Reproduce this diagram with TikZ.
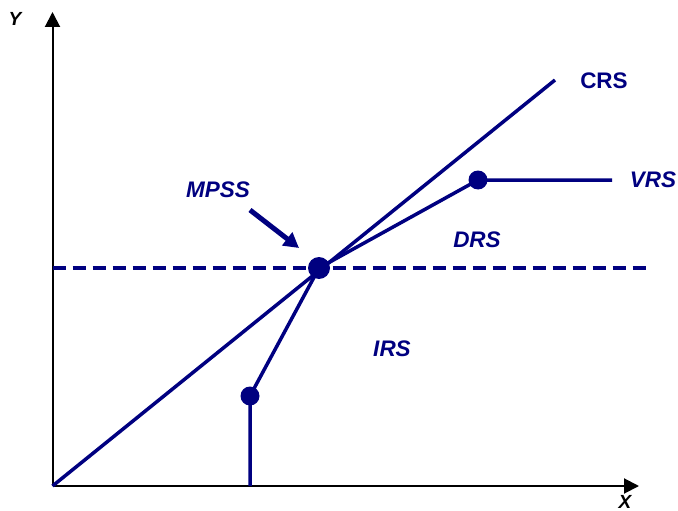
\documentclass[tikz,border=0pt]{standalone}
\usepackage{fontspec}
\setmainfont{Liberation Sans}
\usetikzlibrary{arrows.meta}
\definecolor{navy}{RGB}{0,0,128}
\begin{document}
\begin{tikzpicture}[x=1pt,y=-1pt,
  axis/.style={line width=2pt,black,-{Triangle[length=15pt,width=15pt]}},
  curve/.style={line width=3.5pt,navy},
  dot/.style={circle,fill=navy,inner sep=0pt,minimum size=#1},
  lbl/.style={text=navy,font=\fontsize{22.5}{26}\selectfont\bfseries\itshape,inner sep=0pt},
  axlbl/.style={text=black,font=\fontsize{19}{22}\selectfont\bfseries\itshape,inner sep=0pt}]
\useasboundingbox (0,0) rectangle (678,511);
\coordinate (O) at (52.5,486);
\coordinate (ytop) at (52.5,12);
\coordinate (xend) at (639,486);
\coordinate (crsend) at (555,80);
\coordinate (dashs) at (52.5,268);
\coordinate (dashe) at (652,268);
\coordinate (base) at (250,486);
\coordinate (vrsend) at (612,180);
\coordinate (arrs) at (250,210);
\coordinate (arre) at (299,248);
\draw[axis] (O) -- (ytop);
\draw[axis] (O) -- (xend);
\node[axlbl] (ylab) at (15,19) {Y};
\node[axlbl] (xlab) at (625,501.5) {X};
\draw[navy,line width=3.2pt,dash pattern=on 13pt off 7pt] (dashs) -- (dashe);
\node[dot=22pt] (mpss) at (319,268) {};
\node[dot=19pt] (low) at (250,396) {};
\node[dot=19pt] (up) at (478,180) {};
\draw[curve] (O) -- (crsend);
\draw[curve] (base) -- (low.center) -- (mpss.center) -- (up.center) -- (vrsend);
\draw[navy,line width=5pt,-{Triangle[length=15pt,width=16pt]}] (arrs) -- (arre);
\node[lbl,font=\fontsize{22.5}{26}\selectfont\bfseries] (crs) at (604,81) {CRS};
\node[lbl] (vrs) at (653,180) {VRS};
\node[lbl] (drs) at (477,240) {DRS};
\node[lbl] (irs) at (392,349) {IRS};
\node[lbl] (mpsslab) at (218,190) {MPSS};
\end{tikzpicture}
\end{document}
